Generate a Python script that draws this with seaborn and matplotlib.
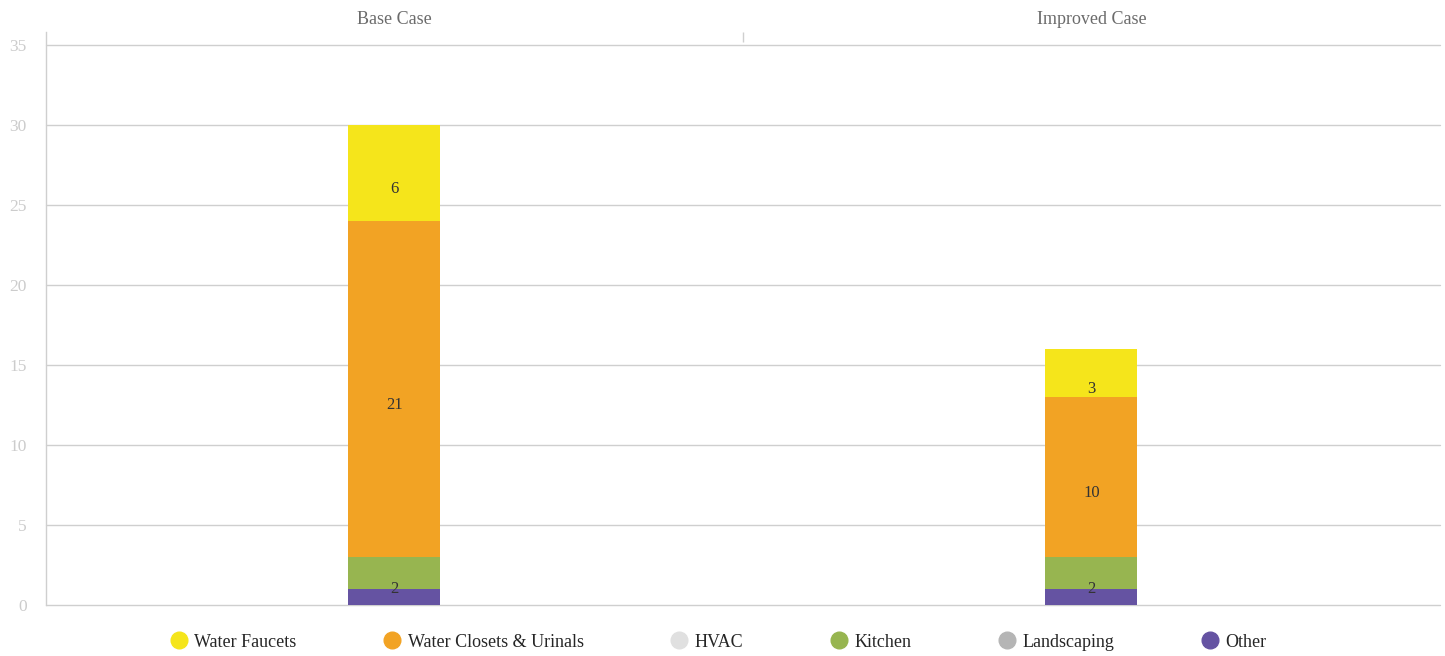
import numpy as np
import pandas as pd
import seaborn as sns
import matplotlib.pyplot as plt
from matplotlib.lines import Line2D

# Données
cases = ['Base Case', 'Improved Case']
water_faucets = [6, 3]
water_closets = [21, 10]
hvac = [0, 0]
kitchen = [2, 2]
landscaping = [0, 0]
other = [1, 1]

# ordre de la légende
series_names = ['Water Faucets', 'Water Closets & Urinals', 'HVAC', 'Kitchen', 'Landscaping', 'Other']
series_values = [water_faucets, water_closets, hvac, kitchen, landscaping, other]
series_colors = ['#F5E51B', '#F2A324', '#E0E0E0', '#97B550', '#B5B5B5', '#6553A2']

sns.set_style('white')
plt.rcParams['font.family'] = ['Liberation Serif', 'DejaVu Serif']

fig = plt.figure(figsize=(14.45, 6.56), dpi=100)
ax = fig.add_axes([0.0318, 0.0777, 0.9647, 0.8735])

# Empilement de bas en haut (ordre inverse de la légende)
bottom = np.zeros(len(cases))
for name, vals, col in zip(series_names[::-1], series_values[::-1], series_colors[::-1]):
    vals = np.array(vals, dtype=float)
    sns.barplot(x=cases, y=vals, bottom=bottom, color=col, width=0.132,
                saturation=1, linewidth=0, ax=ax, zorder=3)
    # étiquettes (position décalée comme dans l'original : sans la série du bas)
    if name != 'Other':
        for i, v in enumerate(vals):
            if v >= 2:
                ypos = bottom[i] - np.array(other)[i] + v / 2
                ax.text(i, ypos, f'{v:.0f}', ha='center', va='center',
                        fontsize=12, color='#333333', zorder=5)
    bottom = bottom + vals

ax.set_xlim(-0.5, 1.5)
ax.set_ylim(0, 35.8)
ax.set_yticks(range(0, 36, 5))
ax.yaxis.grid(True, color='#cfcfcf', linewidth=1, zorder=0)
for gl in ax.get_ygridlines():
    gl.set_clip_on(False)
ax.tick_params(axis='y', length=0, labelcolor='#cccccc', labelsize=12.5, pad=14)
for lab in ax.get_yticklabels():
    lab.set_va('center_baseline')

# catégories en haut
ax.xaxis.tick_top()
ax.set_xticks([0, 1])
ax.set_xticklabels(cases)
ax.set_xticks([0.5], minor=True)
ax.tick_params(axis='x', which='major', length=0, labelcolor='#6b6b6b', labelsize=13, pad=3)
ax.tick_params(axis='x', which='minor', top=True, length=7, direction='in', color='#cfcfcf', width=1)
ax.set_xlabel('')
ax.set_ylabel('')

for s in ['top', 'right', 'bottom']:
    ax.spines[s].set_visible(False)
ax.spines['left'].set_color('#cfcfcf')
ax.spines['left'].set_linewidth(1)

# légende
handles = [Line2D([0], [0], marker='o', linestyle='', markersize=12,
                  markerfacecolor=c, markeredgecolor=c) for c in series_colors]
fig.legend(handles, series_names, loc='center', ncol=6, frameon=False,
           bbox_to_anchor=(0.497, 0.021), fontsize=13, columnspacing=4.8,
           handlelength=1.0, handletextpad=0.35)

plt.savefig('out.png', dpi=100)
